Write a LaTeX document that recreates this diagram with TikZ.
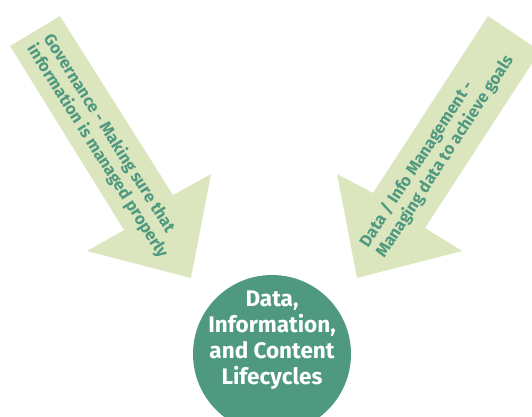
\documentclass[tikz,border=0pt]{standalone}
\usepackage{fontspec}
\setmainfont{Fira Sans}
\usetikzlibrary{positioning}

\definecolor{leafgreen}{RGB}{220,230,190}
\definecolor{lifegreen}{RGB}{78,153,127}

\tikzset{
  blockarrow/.style={fill=leafgreen,draw=none},
  arrowtext/.style={text=lifegreen,font=\bfseries\fontsize{16.6}{19.5}\selectfont,
    align=left,anchor=west,inner sep=0pt},
  hub/.style={circle,fill=lifegreen,minimum size=158pt,inner sep=0pt},
  hubtext/.style={text=white,font=\bfseries\fontsize{22.5}{26}\selectfont,align=center,inner sep=0pt}
}

\begin{document}
\begin{tikzpicture}[x=1pt,y=-1pt]
  \useasboundingbox (0,0) rectangle (532,416);
  \clip (0,0) rectangle (532,416);

  % left arrow
  \path[blockarrow] (60,16) -- (173,195) -- (211,174) -- (191,278)
    -- (87,251) -- (124,230) -- (10,46) -- cycle;
  \node[arrowtext,rotate=-57.7] (governance) at (39,41)
    {Governance - Making sure that\\information is managed properly};

  % right arrow
  \path[blockarrow] (488,16) -- (540,51) -- (425,228) -- (462,251)
    -- (357,278) -- (337,174) -- (373,193) -- cycle;
  \node[arrowtext,rotate=57] (infomgmt) at (372,251)
    {Data / Info Management -\\Managing data to achieve goals};

  % centre
  \node[hub] (lifecycle) at (272,354) {};
  \node[hubtext] (lifecycletext) at (272,340)
    {Data,\\Information,\\and Content\\Lifecycles};
\end{tikzpicture}
\end{document}
